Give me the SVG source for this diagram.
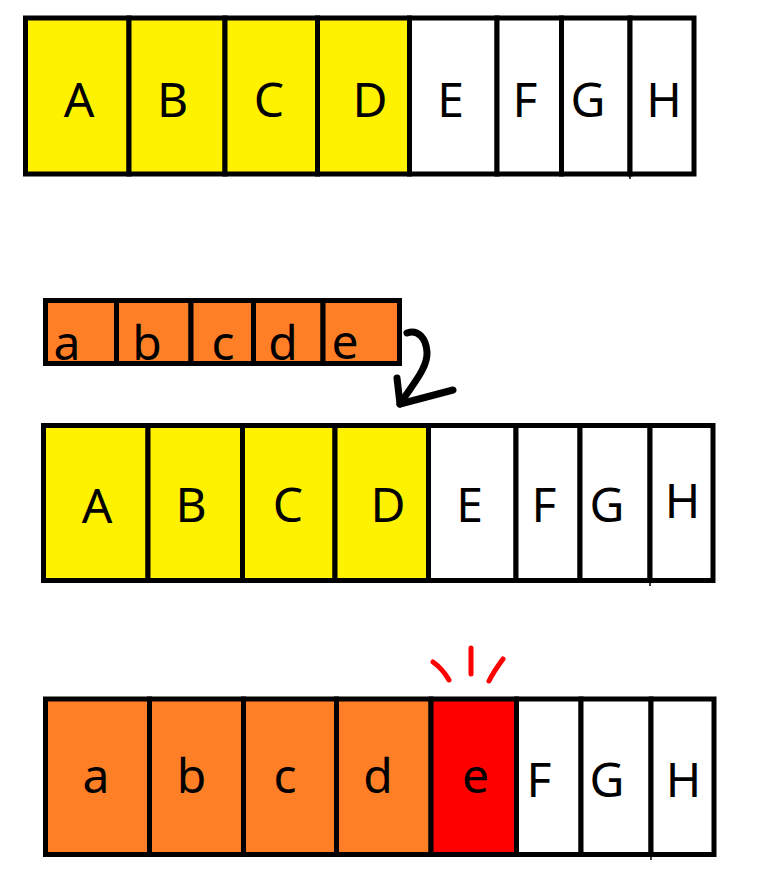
<svg xmlns="http://www.w3.org/2000/svg" width="775" height="877" viewBox="0 0 775 877">
<style>
.c{stroke:#000;stroke-width:5;}
.y{fill:#FFF200;}
.w{fill:#FFFFFF;}
.o{fill:#FF7F27;}
.r{fill:#FF0000;}
.t{font-family:"Noto Sans","Open Sans",sans-serif;font-size:48px;fill:#000;text-anchor:middle;}
.tick{stroke:#000;stroke-width:1.5;}
.mark{stroke:#FF0000;stroke-width:5;stroke-linecap:round;fill:none;}
.arr{stroke:#000;stroke-width:7;stroke-linecap:round;stroke-linejoin:round;fill:none;}
</style>
<rect width="775" height="877" fill="#FFFFFF"/>

<g id="row1">
<g id="r1A"><rect class="c y" x="25.5" y="18" width="103.5" height="156"/><text class="t" x="79" y="117">A</text></g>
<g id="r1B"><rect class="c y" x="129" y="18" width="96" height="156"/><text class="t" x="172.5" y="117">B</text></g>
<g id="r1C"><rect class="c y" x="225" y="18" width="92.5" height="156"/><text class="t" x="269" y="117">C</text></g>
<g id="r1D"><rect class="c y" x="317.5" y="18" width="92" height="156"/><text class="t" x="370" y="117">D</text></g>
<g id="r1E"><rect class="c w" x="409.5" y="18" width="87.5" height="156"/><text class="t" x="450.5" y="117">E</text></g>
<g id="r1F"><rect class="c w" x="497" y="18" width="64.5" height="156"/><text class="t" x="525" y="117">F</text></g>
<g id="r1G"><rect class="c w" x="561.5" y="18" width="68.5" height="156"/><text class="t" x="588" y="117">G</text></g>
<g id="r1H"><rect class="c w" x="630" y="18" width="64" height="156"/><text class="t" x="664" y="117">H</text></g>
<line class="tick" x1="630" y1="175" x2="630" y2="179"/>
</g>

<g id="row2">
<g id="r2a"><rect class="c o" x="45.5" y="300.5" width="71" height="63"/><text class="t" x="67" y="360">a</text></g>
<g id="r2b"><rect class="c o" x="116.5" y="300.5" width="74.5" height="63"/><text class="t" x="147" y="360">b</text></g>
<g id="r2c"><rect class="c o" x="191" y="300.5" width="62.5" height="63"/><text class="t" x="223" y="360">c</text></g>
<g id="r2d"><rect class="c o" x="253.5" y="300.5" width="69.5" height="63"/><text class="t" x="283" y="360">d</text></g>
<g id="r2e"><rect class="c o" x="323" y="300.5" width="76.5" height="63"/><text class="t" x="345" y="358.5">e</text></g>
</g>

<g id="row3">
<g id="r3A"><rect class="c y" x="43.5" y="425.5" width="104.5" height="155"/><text class="t" x="97" y="523">A</text></g>
<g id="r3B"><rect class="c y" x="148" y="425.5" width="94.5" height="155"/><text class="t" x="191" y="522">B</text></g>
<g id="r3C"><rect class="c y" x="242.5" y="425.5" width="92.5" height="155"/><text class="t" x="288" y="522">C</text></g>
<g id="r3D"><rect class="c y" x="335" y="425.5" width="93.5" height="155"/><text class="t" x="388" y="522">D</text></g>
<g id="r3E"><rect class="c w" x="428.5" y="425.5" width="87.5" height="155"/><text class="t" x="469.5" y="522">E</text></g>
<g id="r3F"><rect class="c w" x="516" y="425.5" width="64" height="155"/><text class="t" x="544" y="522">F</text></g>
<g id="r3G"><rect class="c w" x="580" y="425.5" width="70" height="155"/><text class="t" x="607" y="522">G</text></g>
<g id="r3H"><rect class="c w" x="650" y="425.5" width="63" height="155"/><text class="t" x="682.5" y="518">H</text></g>
<line class="tick" x1="650" y1="582" x2="650" y2="586"/>
</g>

<g id="row4">
<g id="r4a"><rect class="c o" x="45.5" y="699" width="104" height="155.5"/><text class="t" x="96" y="793">a</text></g>
<g id="r4b"><rect class="c o" x="149.5" y="699" width="94" height="155.5"/><text class="t" x="191.5" y="793">b</text></g>
<g id="r4c"><rect class="c o" x="243.5" y="699" width="93" height="155.5"/><text class="t" x="285" y="793">c</text></g>
<g id="r4d"><rect class="c o" x="336.5" y="699" width="94.5" height="155.5"/><text class="t" x="378" y="793">d</text></g>
<g id="r4e"><rect class="c r" x="431" y="699" width="85.5" height="155.5"/><text class="t" x="475.5" y="793">e</text></g>
<g id="r4F"><rect class="c w" x="516.5" y="699" width="64.5" height="155.5"/><text class="t" x="539" y="796.5">F</text></g>
<g id="r4G"><rect class="c w" x="581" y="699" width="70" height="155.5"/><text class="t" x="607" y="796.5">G</text></g>
<g id="r4H"><rect class="c w" x="651" y="699" width="63" height="155.5"/><text class="t" x="683.5" y="796.5">H</text></g>
<line class="tick" x1="651" y1="856" x2="651" y2="860"/>
</g>

<g id="highlight">
<path class="mark" d="M433,662 C440,667 445,673 449,680"/>
<path class="mark" d="M471,648 L471,674"/>
<path class="mark" d="M503,659 C497,667 493,673 489,681"/>
</g>

<g id="connectors">
<path class="arr" d="M407,333 C418,329 426,338 427,352 C428,368 412,385 400,404"/>
<path class="arr" d="M397,378 L400,404 L453,390"/>
</g>
</svg>
